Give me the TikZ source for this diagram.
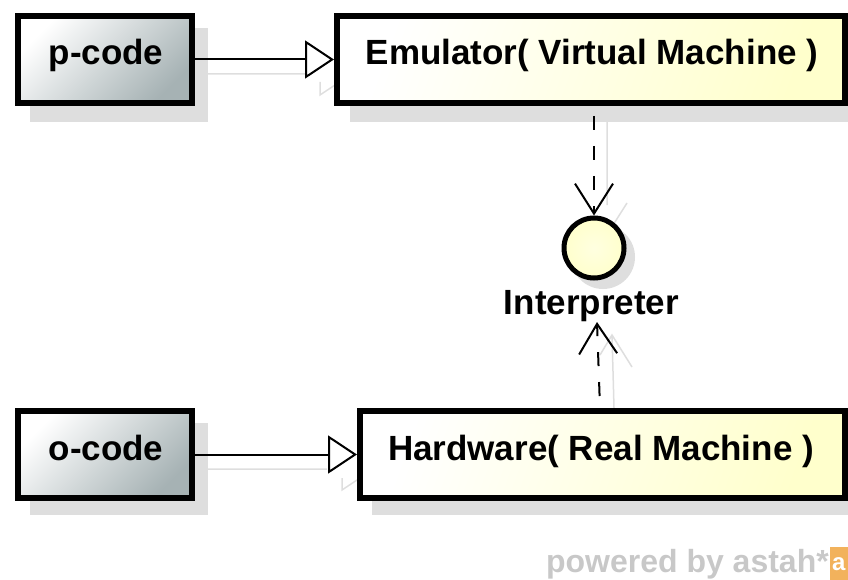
\documentclass[tikz,border=0pt]{standalone}
\usepackage{fontspec}
\setmainfont{Liberation Sans}
\usetikzlibrary{arrows.meta}

\definecolor{shadowgrey}{HTML}{DEDEDE}
\definecolor{stubgrey}{HTML}{A6B2B4}
\definecolor{realyellow}{HTML}{FFFFCC}
\definecolor{astahgrey}{HTML}{C8C8C8}
\definecolor{astahorange}{HTML}{F2B25C}

\tikzset{
    umltext/.style={font=\bfseries\fontsize{35}{38}\selectfont, anchor=base, inner sep=0pt},
    codebox/.style={draw, line width=6pt, minimum width=174pt, minimum height=87pt, inner sep=0pt,
        top color=white, bottom color=stubgrey, shading angle=45},
    machinebox/.style={draw, line width=6pt, minimum height=87pt, inner sep=0pt,
        top color=white, bottom color=realyellow, shading angle=70},
    realizes/.style={line width=2pt, -{Triangle[open, fill=white, length=29pt, width=38pt, line width=2pt]}},
    uses/.style={line width=2pt, dash pattern=on 14pt off 16pt, -{Straight Barb[length=30pt, width=38pt, line width=2pt]}},
    shadowfill/.style={fill=shadowgrey},
    shadowline/.style={draw=shadowgrey, line width=1.5pt}
}

\begin{document}
\begin{tikzpicture}[x=1pt, y=-1pt]
        \useasboundingbox (0, 0) rectangle (848, 580);

        \fill[shadowfill] (30, 28) rectangle (208, 122);
        \fill[shadowfill] (350, 28) rectangle (848, 122);
        \fill[shadowfill] (30, 423) rectangle (208, 515);
        \fill[shadowfill] (372, 423) rectangle (848, 515);
        \fill[shadowfill] (603, 257) circle (32);

        \draw[shadowline] (195, 74) -- (307, 74)
            (320, 82) -- (320, 95) -- (335, 85)
            (195, 469) -- (327, 469)
            (342, 478) -- (342, 490) -- (357, 480)
            (607, 122) -- (607, 205)
            (627, 203) -- (608, 233)
            (614, 408) -- (612, 335)
            (632, 367) -- (612, 335) -- (600, 355);

        \node[codebox] (pcode) at (105, 59.5) {};
        \node[umltext] (pcodetext) at (106, 65) {p-code};
        \node[machinebox, minimum width=508pt] (emulator) at (591, 59.5) {};
        \node[umltext] (emulatortext) at (592, 65) {Emulator( Virtual Machine )};
        \node[codebox] (ocode) at (105, 454.5) {};
        \node[umltext] (ocodetext) at (106, 460) {o-code};
        \node[machinebox, minimum width=485pt] (hardware) at (602.5, 454.5) {};
        \node[umltext] (hardwaretext) at (601, 460) {Hardware( Real Machine )};

        \node[circle, draw, line width=5pt, minimum size=60pt, inner sep=0pt, inner color=white!40!realyellow, outer color=realyellow] (interpreter) at (594, 248) {};
        \node[umltext] (interpreterlabel) at (591.5, 314) {Interpreter};

        \coordinate (emulatorout) at (594, 106);
        \coordinate (hardwareout) at (600, 408);
        \coordinate (interpreterin) at (597, 322);

        \draw[realizes] (pcode.east) to (emulator.west);
        \draw[realizes] (ocode.east) to (hardware.west);
        \draw[uses, dash phase=20pt] (emulatorout) to (interpreter.north);
        \draw[uses, dash phase=18pt] (hardwareout) to (interpreterin);

        \node[font=\bfseries\fontsize{32}{34}\selectfont, text=astahgrey, anchor=base east, inner sep=0pt] (powered) at (829, 572) {powered by astah*};
        \node[fill=astahorange, text=white, font=\bfseries\fontsize{24}{26}\selectfont, minimum width=18pt, minimum height=33pt, inner sep=0pt, anchor=north east] (logo) at (848, 547) {a};
    \end{tikzpicture}
\end{document}
